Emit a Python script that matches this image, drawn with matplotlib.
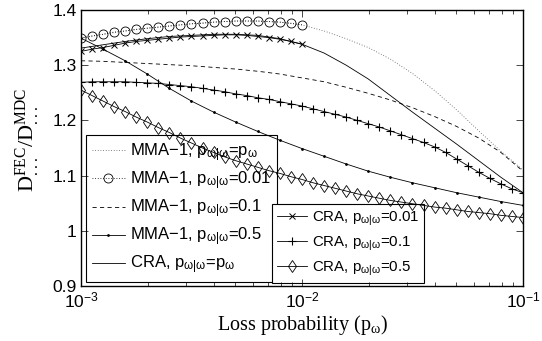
import numpy as np
import matplotlib
matplotlib.use('Agg')
import matplotlib.pyplot as plt
from matplotlib.ticker import FuncFormatter

plt.rcParams['font.family'] = 'Liberation Sans'
plt.rcParams['mathtext.default'] = 'regular'

# loss probability grids
p_fine = np.logspace(-3, -1, 41)
p_coarse = np.logspace(-3, -1, 21)
p_low = np.logspace(-3, -2, 21)

# MMA-1 curves
mma_pp = [1.349, 1.356, 1.362, 1.367, 1.371, 1.375, 1.378, 1.380, 1.380, 1.378,
          1.373, 1.362, 1.348, 1.332, 1.311, 1.285, 1.254, 1.219, 1.181, 1.144, 1.110]
mma_001 = [1.349, 1.353, 1.356, 1.360, 1.362, 1.365, 1.367, 1.369, 1.371, 1.373,
           1.375, 1.376, 1.378, 1.379, 1.380, 1.380, 1.380, 1.379, 1.378, 1.376, 1.373]
mma_01 = [1.308, 1.307, 1.305, 1.303, 1.301, 1.299, 1.296, 1.293, 1.289, 1.284,
          1.277, 1.270, 1.260, 1.249, 1.237, 1.223, 1.207, 1.189, 1.168, 1.142, 1.108]
mma_05 = [1.349, 1.329, 1.308, 1.284, 1.258, 1.235, 1.215, 1.197, 1.180, 1.164,
          1.149, 1.135, 1.121, 1.108, 1.097, 1.087, 1.078, 1.069, 1.061, 1.053, 1.046]

# CRA curves
cra_pp = [1.331, 1.337, 1.343, 1.348, 1.352, 1.354, 1.356, 1.356, 1.354, 1.348,
          1.338, 1.322, 1.300, 1.275, 1.245, 1.215, 1.186, 1.157, 1.127, 1.097, 1.069]
cra_001 = [1.325, 1.329, 1.332, 1.336, 1.340, 1.343, 1.345, 1.347, 1.349, 1.351,
           1.352, 1.353, 1.354, 1.355, 1.355, 1.354, 1.352, 1.350, 1.347, 1.343, 1.338]
cra_01 = [1.269, 1.270, 1.270, 1.270, 1.270, 1.269, 1.268, 1.267, 1.265, 1.263,
          1.261, 1.258, 1.255, 1.252, 1.248, 1.245, 1.241, 1.238, 1.234, 1.230,
          1.226, 1.221, 1.216, 1.211, 1.206, 1.200, 1.194, 1.188, 1.181, 1.174,
          1.167, 1.160, 1.152, 1.142, 1.130, 1.118, 1.106, 1.095, 1.085, 1.076, 1.069]
cra_05 = [1.255, 1.245, 1.235, 1.225, 1.216, 1.206, 1.197, 1.187, 1.178, 1.168,
          1.159, 1.150, 1.142, 1.134, 1.127, 1.121, 1.115, 1.109, 1.104, 1.098,
          1.093, 1.087, 1.082, 1.077, 1.072, 1.067, 1.063, 1.059, 1.055, 1.052,
          1.049, 1.046, 1.043, 1.041, 1.038, 1.035, 1.033, 1.031, 1.028, 1.026, 1.024]

sub = r'$_{\omega|\omega}$'
lw = 0.6

fig = plt.figure(figsize=(5.42, 3.41), dpi=100)
ax = fig.add_axes([0.1494, 0.1613, 0.8155, 0.8094])

h1 = ax.plot(p_coarse, mma_pp, color='0.35', lw=lw, dashes=(1, 2.2),
             label='MMA\u22121, p' + sub + r'=p$_{\omega}$')[0]
h2 = ax.plot(p_low, mma_001, color='k', lw=lw, dashes=(1, 2.2), marker='o', ms=6.5, mfc='none', mew=0.6,
             label='MMA\u22121, p' + sub + '=0.01')[0]
h3 = ax.plot(p_coarse, mma_01, '--', color='k', lw=lw, dashes=(5, 4), label='MMA\u22121, p' + sub + '=0.1')[0]
h4 = ax.plot(p_coarse, mma_05, '-', color='k', lw=lw, marker='.', ms=2, label='MMA\u22121, p' + sub + '=0.5')[0]
h5 = ax.plot(p_coarse, cra_pp, '-', color='k', lw=lw, label='CRA, p' + sub + r'=p$_{\omega}$')[0]
h6 = ax.plot(p_low, cra_001, '-', color='k', lw=lw, marker='x', ms=4.5, mew=0.7, label='CRA, p' + sub + '=0.01')[0]
h7 = ax.plot(p_fine, cra_01, '-', color='k', lw=lw, marker='+', ms=6, mew=0.8, label='CRA, p' + sub + '=0.1')[0]
h8 = ax.plot(p_fine, cra_05, '-', color='k', lw=lw, marker='d', ms=6.5, mfc='none', mew=0.6,
             label='CRA, p' + sub + '=0.5')[0]

ax.set_xscale('log')
ax.set_xlim(1e-3, 1e-1)
ax.set_ylim(0.9, 1.4)
ax.set_yticks([0.9, 1.0, 1.1, 1.2, 1.3, 1.4])
ax.yaxis.set_major_formatter(FuncFormatter(lambda v, pos: '%g' % v))
ax.tick_params(which='both', direction='in', top=True, right=True, width=0.5, labelsize=12.5)
ax.tick_params(which='major', length=5, pad=3)
ax.tick_params(which='minor', length=3)
for s in ax.spines.values():
    s.set_linewidth(1.0)

ax.set_xlabel(r'Loss probability (p$_{\omega}$)', family='Liberation Serif', fontsize=14.5, labelpad=2)
ax.set_ylabel(r'D$^{FEC}_{...}$/D$^{MDC}_{...}$', family='Liberation Serif', fontsize=16, labelpad=1)
ax.yaxis.set_label_coords(-0.088, 0.531)

leg_kw = dict(numpoints=1, frameon=True, fancybox=False, framealpha=1,
              edgecolor='k', borderaxespad=0, handlelength=2.0, handletextpad=0.3,
              borderpad=0.35, loc='lower left')
leg1 = ax.legend(handles=[h1, h2, h3, h4, h5], bbox_to_anchor=(0.011, 0.014),
                 fontsize=12, labelspacing=0.33, **leg_kw)
leg1.get_frame().set_linewidth(0.8)
leg1.set_zorder(1)
ax.add_artist(leg1)
leg2 = ax.legend(handles=[h6, h7, h8], bbox_to_anchor=(0.432, 0.011),
                 fontsize=10.8, labelspacing=0.45, **leg_kw)
leg2.get_frame().set_linewidth(0.8)
leg2.set_zorder(1)

fig.savefig('out.png', dpi=100)
